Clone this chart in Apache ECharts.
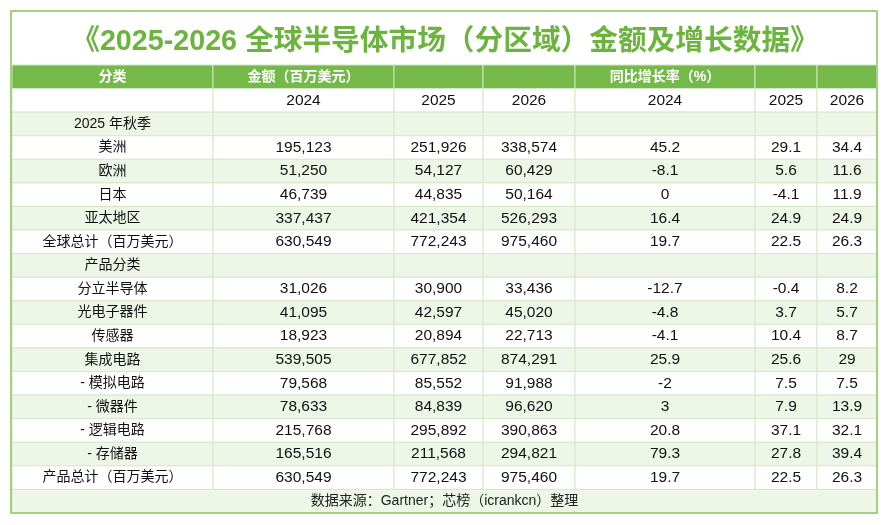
<!DOCTYPE html>
<html>
<head>
<meta charset="utf-8">
<script src="https://cdn.jsdelivr.net/npm/echarts@6/dist/echarts.min.js"></script>
<style>
  html, body { margin: 0; padding: 0; background: #fff; }
  #main { width: 890px; height: 525px; }
</style>
</head>
<body>
<div id="main"></div>
<script>
// table data
var titleText = '《2025-2026 全球半导体市场（分区域）金额及增长数据》';
var headTop = ['分类', '金额（百万美元）', '', '', '同比增长率（%）', '', ''];
var years = ['2024', '2025', '2026', '2024', '2025', '2026'];
var categories = ['2025 年秋季', '美洲', '欧洲', '日本', '亚太地区', '全球总计（百万美元）',
  '产品分类', '分立半导体', '光电子器件', '传感器', '集成电路',
  '- 模拟电路', '- 微器件', '- 逻辑电路', '- 存储器', '产品总计（百万美元）'];
var amount2024 = [null, 195123, 51250, 46739, 337437, 630549, null, 31026, 41095, 18923, 539505, 79568, 78633, 215768, 165516, 630549];
var amount2025 = [null, 251926, 54127, 44835, 421354, 772243, null, 30900, 42597, 20894, 677852, 85552, 84839, 295892, 211568, 772243];
var amount2026 = [null, 338574, 60429, 50164, 526293, 975460, null, 33436, 45020, 22713, 874291, 91988, 96620, 390863, 294821, 975460];
var growth2024 = [null, 45.2, -8.1, 0, 16.4, 19.7, null, -12.7, -4.8, -4.1, 25.9, -2, 3, 20.8, 79.3, 19.7];
var growth2025 = [null, 29.1, 5.6, -4.1, 24.9, 22.5, null, -0.4, 3.7, 10.4, 25.6, 7.5, 7.9, 37.1, 27.8, 22.5];
var growth2026 = [null, 34.4, 11.6, 11.9, 24.9, 26.3, null, 8.2, 5.7, 8.7, 29, 7.5, 13.9, 32.1, 39.4, 26.3];
var sourceText = '数据来源：Gartner；芯榜（icrankcn）整理';

// layout: column edges in table units (not data)
var colEdges = [0, 201, 382, 471, 563, 743, 805, 865];

var GREEN = '#74b94a';
var LIGHT = '#eef6e7';
var LINE = '#d6e8c8';
var FONT = '"Liberation Sans", "Noto Sans CJK SC", sans-serif';

var rowKeys = ['head', 'year'].concat(categories).concat(['source']);

function fmtAmount(v) {
  return v == null ? '' : v.toLocaleString('en-US');
}
function fmtGrowth(v) {
  return v == null ? '' : String(v);
}

// cells: [colStart, colEnd, row, text, kind]
var cells = [];
headTop.forEach(function (t, i) {
  cells.push([i, i + 1, 0, t, 'head']);
});
cells.push([0, 1, 1, '', 'year']);
years.forEach(function (t, i) {
  cells.push([i + 1, i + 2, 1, t, 'year']);
});
categories.forEach(function (name, r) {
  var row = r + 2;
  var kind = (row % 2 === 0) ? 'light' : 'white';
  cells.push([0, 1, row, name, kind + 'Name']);
  cells.push([1, 2, row, fmtAmount(amount2024[r]), kind]);
  cells.push([2, 3, row, fmtAmount(amount2025[r]), kind]);
  cells.push([3, 4, row, fmtAmount(amount2026[r]), kind]);
  cells.push([4, 5, row, fmtGrowth(growth2024[r]), kind]);
  cells.push([5, 6, row, fmtGrowth(growth2025[r]), kind]);
  cells.push([6, 7, row, fmtGrowth(growth2026[r]), kind]);
});
cells.push([0, 7, rowKeys.length - 1, sourceText, 'source']);

function renderCell(params, api) {
  var c0 = api.value(0), c1 = api.value(1), row = api.value(2);
  var text = cells[params.dataIndex][3];
  var kind = cells[params.dataIndex][4];
  var p0 = api.coord([colEdges[c0], row]);
  var p1 = api.coord([colEdges[c1], row]);
  var h = api.size([0, 1])[1];
  var fill = '#ffffff', color = '#111111', weight = 'normal', size = 15.5, stroke = LINE;
  if (kind === 'head') { fill = GREEN; color = '#ffffff'; weight = 'bold'; size = 14; stroke = '#cfe7bd'; }
  if (kind.indexOf('light') === 0 || kind === 'source') { fill = LIGHT; }
  if (kind.indexOf('Name') > 0) { size = 14; }
  if (kind === 'source') { size = 14; color = '#222222'; }
  return {
    type: 'rect',
    shape: { x: p0[0], y: p0[1] - h / 2, width: p1[0] - p0[0], height: h },
    style: { fill: fill, stroke: stroke, lineWidth: 1 },
    textContent: {
      style: {
        text: text,
        fill: color, fontSize: size, fontWeight: weight, fontFamily: FONT
      }
    },
    textConfig: { position: 'inside' }
  };
}

var chart = echarts.init(document.getElementById('main'));
var option = {
  backgroundColor: '#ffffff',
  title: {
    text: titleText,
    left: 'center',
    top: 23,
    textStyle: { color: '#6cb43f', fontSize: 28.7, fontWeight: 'bold', fontFamily: FONT }
  },
  grid: { left: 12, right: 13, top: 65, bottom: 12 },
  xAxis: { type: 'value', min: 0, max: 865, show: false },
  yAxis: { type: 'category', data: rowKeys, inverse: true, show: false },
  graphic: [
    {
      type: 'rect', z: 100, silent: true,
      shape: { x: 11, y: 11, width: 866, height: 502 },
      style: { fill: 'none', stroke: '#a3d184', lineWidth: 2 }
    }
  ],
  series: [
    {
      type: 'custom',
      renderItem: renderCell,
      encode: { x: [0, 1], y: 2 },
      data: cells.map(function (c) { return [c[0], c[1], c[2]]; }),
      silent: true,
      animation: false
    }
  ]
};
chart.setOption(option);
</script>
</body>
</html>
